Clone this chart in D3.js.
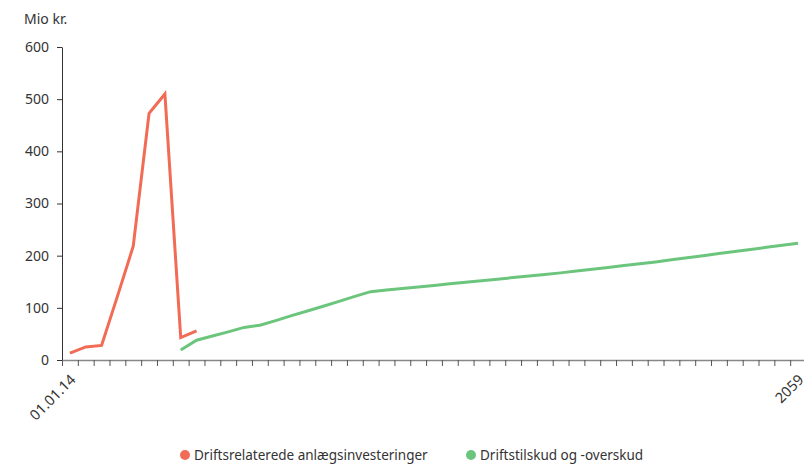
<!DOCTYPE html>
<html><head><meta charset="utf-8">
<script src="https://cdn.jsdelivr.net/npm/d3@7"></script>
<style>
body{margin:0;background:#fff;overflow:hidden}
text{font-family:"Noto Sans",sans-serif;fill:#333}
</style></head>
<body><svg id="c" width="804" height="464"></svg>
<script>
const categories = ["01.01.14"].concat(d3.range(2014, 2060).map(String));
const seriesNames = ["Driftsrelaterede anlægsinvesteringer", "Driftstilskud og -overskud"];
const anlaeg = [13, 25, 28, 122, 218, 473, 510, 43, 56];
const drift = [null, null, null, null, null, null, null, 19, 38, 46, 54, 62.5, 66.5, 75.5, 85, 94, 103, 112.5, 122,
  131, 134, 137, 140, 143, 146, 149, 152, 155, 158, 161, 164, 167, 170.5, 174, 177.5, 181, 184.5, 188,
  192, 196, 200, 204, 208, 212, 216, 220, 224];
const yTicks = [0, 100, 200, 300, 400, 500, 600];
const colors = ["#f26b55", "#6cc57d"];

const svg = d3.select("#c");
const mLeft = 62, mRight = 806, mTop = 47, mBottom = 360;
const x = d3.scaleBand().domain(categories).range([mLeft, mRight]).paddingInner(0).paddingOuter(0);
const xi = d3.scaleLinear().domain([0, categories.length]).range([mLeft, mRight]);
const y = d3.scaleLinear().domain([0, 600]).range([mBottom, mTop]);

// y axis
const gy = svg.append("g").attr("transform", `translate(${mLeft},0)`)
  .call(d3.axisLeft(y).tickValues(yTicks).tickSize(5).tickPadding(8).tickSizeOuter(0));
gy.select(".domain").attr("stroke", "#333");
gy.selectAll(".tick line").attr("stroke", "#333");
gy.selectAll(".tick text").style("font-size", "14px").attr("fill", "#333");

// x axis
const gx = svg.append("g").attr("transform", `translate(0,${mBottom})`)
  .call(d3.axisBottom(xi).tickValues(d3.range(categories.length + 1)).tickFormat("").tickSize(6).tickSizeOuter(0));
gx.select(".domain").attr("stroke", "#888").attr("stroke-width", 1.5);
gx.selectAll(".tick line").attr("stroke", "#555");

const labelCats = [categories[0], categories[categories.length - 1]];
svg.append("g").selectAll("text").data(labelCats).join("text")
  .attr("transform", d => `translate(${x(d) + x.bandwidth() / 2 + 3},${mBottom + 17}) rotate(-45)`)
  .attr("text-anchor", "end").attr("dy", "0.35em")
  .style("font-size", "14.5px").text(d => d);

svg.append("text").attr("x", 24).attr("y", 24).style("font-size", "14px").text("Mio kr.");

// lines
const line = d3.line()
  .defined(d => d != null)
  .x((d, i) => x(categories[i]) + x.bandwidth() / 2)
  .y(d => y(d));
[anlaeg, drift].forEach((s, k) => {
  svg.append("path").datum(s).attr("fill", "none").attr("stroke", colors[k])
    .attr("stroke-width", 3).attr("stroke-linejoin", "miter").attr("d", line);
});

// legend
const legX = [185, 471];
const lg = svg.append("g");
seriesNames.forEach((n, k) => {
  lg.append("circle").attr("cx", legX[k]).attr("cy", 455).attr("r", 5).attr("fill", colors[k]);
  lg.append("text").attr("x", legX[k] + 9).attr("y", 455).attr("dy", "0.35em")
    .style("font-size", "13.5px").text(n);
});
</script></body></html>
